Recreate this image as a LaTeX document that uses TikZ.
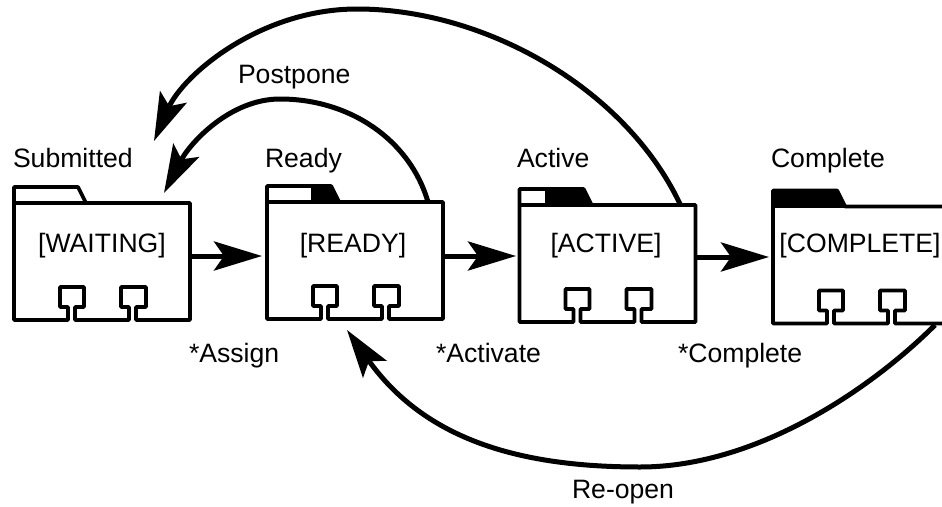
\documentclass[tikz,border=0pt]{standalone}
\usepackage{fontspec}
\setmainfont{Liberation Sans}
\usetikzlibrary{arrows.meta}
\tikzset{
  x=1pt,y=-1pt,
  folderline/.style={draw=black,line width=3.8pt,line join=round},
  lbl/.style={inner sep=0pt,outer sep=0pt,anchor=base west,font=\fontsize{26.6}{30}\selectfont},
  ctr/.style={inner sep=0pt,outer sep=0pt,anchor=base,font=\fontsize{26.6}{30}\selectfont},
  flow/.style={draw=black,line width=5pt,-{Stealth[length=48pt,width=29pt,inset=10pt]}},
}
\newcommand{\folder}[2]{% x, tab top y
  \begin{scope}[shift={(#1,#2)}]
    \path[folderline] (0,0) -- (64,0) -- (72,16) -- (176,16) -- (176,133) -- (122,133) -- (122,120) -- (132,120) -- (132,100) -- (107,100) -- (107,120) -- (115,120) -- (115,133) -- (61,133) -- (61,120) -- (70,120) -- (70,100) -- (46,100) -- (46,120) -- (54,120) -- (54,133) -- (0,133) -- cycle;
    \draw[folderline] (0,16) -- (72,16);
  \end{scope}
}
\begin{document}
\begin{tikzpicture}
\useasboundingbox[clip] (0,0) rectangle (942,506);
\fill[white] (0,0) rectangle (942,506);
\folder{14}{187}
\folder{267}{186}
\fill[black] (311,186) -- (331,186) -- (339,202) -- (311,202) -- cycle;
\folder{519.5}{189}
\fill[black] (545,189) -- (584,189) -- (592,205) -- (545,205) -- cycle;
\folder{773}{190.5}
\fill[black] (773,190.5) -- (837,190.5) -- (845,206.5) -- (773,206.5) -- cycle;
\coordinate (w) at (191,256);
\coordinate (rl) at (262,256);
\coordinate (rr) at (443,256);
\coordinate (al) at (516,256);
\coordinate (ar) at (696,257);
\coordinate (cl) at (769,257);
\coordinate (rt) at (428,202);
\coordinate (at) at (680,204);
\coordinate (wt1) at (164,193);
\coordinate (wt2) at (154,141);
\coordinate (cb) at (935,325);
\coordinate (rb) at (347,330);
\draw[flow] (w) -- (rl);
\draw[flow] (rr) -- (al);
\draw[flow] (ar) -- (cl);
\draw[flow] (rt) .. controls (410,140) and (350,99) .. (280,99) .. controls (230,99) and (190,143) .. (wt1);
\draw[flow] (at) .. controls (625,88) and (485,9) .. (357,9) .. controls (260,9) and (183,75) .. (wt2);
\draw[flow] (cb) .. controls (875,385) and (760,467) .. (640,467) .. controls (520,467) and (425,440) .. (rb);
\node[lbl] (l1) at (13,167) {Submitted};
\node[lbl] (l2) at (265,167) {Ready};
\node[lbl] (l3) at (517,167) {Active};
\node[lbl] (l4) at (771,167) {Complete};
\node[lbl] (p) at (238,83) {Postpone};
\node[ctr] (t1) at (102,252) {[WAITING]};
\node[ctr] (t2) at (353,252) {[READY]};
\node[ctr] (t3) at (606,252) {[ACTIVE]};
\node[ctr] (t4) at (860,252) {[COMPLETE]};
\node[lbl] (s1) at (189,362) {*Assign};
\node[lbl] (s2) at (436,362) {*Activate};
\node[lbl] (s3) at (678,362) {*Complete};
\node[lbl] (r) at (572,498) {Re-open};
\end{tikzpicture}
\end{document}
